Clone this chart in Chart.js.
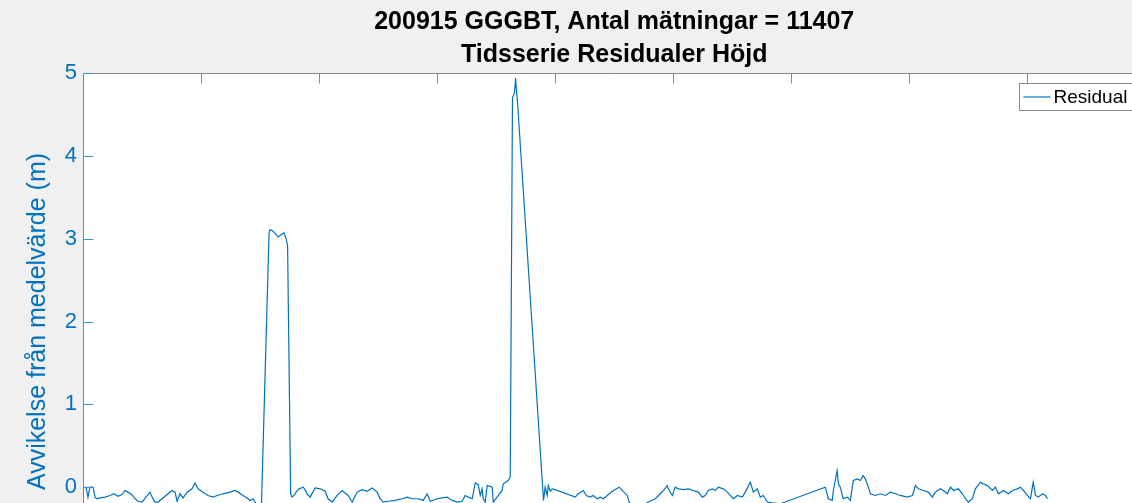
<!DOCTYPE html>
<html>
<head>
<meta charset="utf-8">
<script src="https://cdn.jsdelivr.net/npm/chart.js@4.4.1/dist/chart.umd.min.js"></script>
<style>
  html, body { margin: 0; padding: 0; overflow: hidden; background: #f0f0f0; }
  #wrap { position: absolute; left: 0; top: 0; }
</style>
</head>
<body>
<div id="wrap"><canvas id="graph" width="1179" height="620"></canvas></div>
<script>
// Data (x = sample time, y = residual height in m)
const titleLines = ['200915 GGGBT, Antal mätningar = 11407', 'Tidsserie Residualer Höjd'];
const yTitle = 'Avvikelse från medelvärde (m)';
const seriesName = 'Residual';

const xTickValues = [0, 1000, 2000, 3000, 4000, 5000, 6000, 7000, 8000, 9000];
const yTickValues = [-1, 0, 1, 2, 3, 4, 5];

const xVals = [
  0, 25, 42, 59, 85, 102, 119, 144, 186, 229, 263, 297, 331, 356, 381, 415, 441, 466, 500,
  568, 585, 610, 636, 754, 780, 797, 822, 848, 881, 924, 949, 975, 1017, 1059, 1102, 1136,
  1186, 1246, 1288, 1314, 1356, 1390, 1415, 1441, 1466, 1492, 1509,
  1576, 1585, 1610, 1636, 1653, 1687, 1703, 1720, 1733,
  1759, 1771, 1788, 1805, 1831, 1865, 1881, 1898, 1924, 1966, 2009, 2051, 2076, 2110, 2153,
  2195, 2220, 2246, 2280, 2322, 2364, 2407, 2449, 2492, 2517, 2543, 2585, 2644, 2704, 2746,
  2788, 2839, 2882, 2915, 2941, 3000, 3043, 3085, 3127, 3170, 3212, 3237, 3263, 3297, 3322,
  3348, 3365, 3381, 3390, 3407, 3424, 3449, 3466, 3475, 3551, 3560, 3602, 3619,
  3638, 3655, 3664, 3670, 3681,
  3901, 3915, 3932, 3941, 3958, 3975, 4000, 4170, 4195, 4238, 4263, 4297, 4322, 4356, 4382,
  4407, 4441, 4483, 4542, 4576, 4610, 4627, 4653, 4695, 4746, 4788, 4848, 4890, 4924, 4949,
  4958, 4992, 5017, 5043, 5085, 5127, 5170, 5212, 5246, 5271, 5297, 5331, 5356, 5382, 5424,
  5458, 5483, 5509, 5543, 5585, 5610, 5653, 5678, 5712, 5737, 5763, 5797, 5839, 5907,
  6288, 6314, 6347, 6356, 6388, 6399, 6415, 6432, 6441, 6475, 6500, 6525, 6559, 6585, 6608,
  6627, 6653, 6670, 6712, 6754, 6797, 6839, 6881, 6924, 6983, 7026, 7051, 7076, 7119, 7161,
  7195, 7220, 7263, 7288, 7322, 7348, 7373, 7415, 7449, 7475, 7500, 7534, 7559, 7602, 7627,
  7661, 7704, 7729, 7754, 7797, 7839, 7873, 7916, 7941, 7966, 8000, 8026, 8049, 8068, 8093,
  8127, 8153, 8170
];

const yVals = [
  -0.01, 0.00, -0.12, 0.00, 0.00, -0.12, -0.14, -0.13, -0.12, -0.10, -0.08, -0.11, -0.09, -0.04, -0.06, -0.09, -0.14, -0.17, -0.18,
  -0.06, -0.12, -0.18, -0.18, -0.04, -0.06, -0.17, -0.08, -0.13, -0.06, -0.02, 0.05, -0.02, -0.06, -0.10, -0.12, -0.10,
  -0.08, -0.06, -0.04, -0.06, -0.10, -0.13, -0.16, -0.14, -0.20, -0.28, -0.35,
  3.07, 3.11, 3.09, 3.05, 3.02, 3.06, 3.07, 3.00, 2.92,
  -0.08, -0.12, -0.10, -0.06, -0.02, 0.00, -0.03, -0.08, -0.12, -0.01, -0.02, -0.05, -0.14, -0.18, -0.10,
  -0.04, -0.07, -0.10, -0.18, -0.06, -0.03, -0.05, -0.01, -0.06, -0.14, -0.18, -0.17, -0.16, -0.14, -0.12,
  -0.14, -0.14, -0.16, -0.08, -0.17, -0.14, -0.13, -0.12, -0.16, -0.18, -0.17, -0.10, -0.12, -0.14, 0.05,
  0.03, -0.10, -0.02, -0.14, -0.18, 0.02, 0.01, 0.00, -0.18, -0.04, 0.04, 0.08, 0.12,
  4.70, 4.76, 4.94, 4.82, 4.64,
  -0.16, 0.00, -0.10, 0.02, -0.05, -0.02, -0.03, -0.12, -0.08, -0.04, -0.10, -0.12, -0.10, -0.14, -0.12,
  -0.14, -0.10, -0.05, 0.00, -0.05, -0.10, -0.18, -0.25, -0.24, -0.22, -0.18, -0.14, -0.08, -0.03, 0.02,
  -0.02, -0.10, 0.00, -0.02, -0.03, -0.02, -0.04, -0.06, -0.12, -0.10, -0.04, -0.02, -0.04, 0.00, -0.02,
  -0.06, -0.10, -0.14, -0.10, -0.12, -0.06, 0.06, -0.06, -0.02, -0.12, -0.10, -0.18, -0.19, -0.20,
  0.00, -0.14, -0.16, -0.04, 0.20, 0.04, 0.00, -0.10, -0.14, -0.12, -0.16, 0.08, 0.10, 0.08, 0.14,
  0.10, 0.00, -0.08, -0.10, -0.08, -0.10, -0.06, -0.08, -0.10, -0.12, -0.10, 0.02, -0.02, -0.04, -0.06,
  -0.12, -0.06, -0.02, -0.04, -0.08, 0.00, -0.04, -0.02, -0.08, -0.14, -0.18, -0.14, -0.02, 0.06, 0.04,
  0.02, -0.04, 0.00, -0.08, -0.04, -0.08, -0.04, -0.02, 0.00, -0.04, -0.10, -0.14, 0.06, -0.10, -0.12,
  -0.08, -0.10, -0.14
];

const FONT = '"Liberation Sans", Arial, Helvetica, sans-serif';
const BLUE = '#0072BD';

// MATLAB-like box: white axes, inward ticks, legend in the top right corner
const matlabAxes = {
  id: 'matlabAxes',
  beforeDraw(chart) {
    const { ctx, chartArea: a } = chart;
    ctx.save();
    ctx.fillStyle = '#ffffff';
    ctx.fillRect(a.left, a.top, a.right - a.left, a.bottom - a.top);
    ctx.restore();
  },
  afterDraw(chart) {
    const { ctx, chartArea: a, scales } = chart;
    const L = Math.round(a.left) + 0.5, R = Math.round(a.right) + 0.5;
    const T = Math.round(a.top) + 0.5, B = Math.round(a.bottom) + 0.5;
    ctx.save();
    ctx.lineWidth = 1;

    ctx.strokeStyle = '#8a8a8a';
    ctx.beginPath();
    ctx.moveTo(L, T); ctx.lineTo(R, T);
    ctx.moveTo(R, T); ctx.lineTo(R, B);
    ctx.moveTo(L, B); ctx.lineTo(R, B);
    scales.x.ticks.forEach(t => {
      const px = Math.round(scales.x.getPixelForValue(t.value)) + 0.5;
      ctx.moveTo(px, T); ctx.lineTo(px, T + 10);
      ctx.moveTo(px, B); ctx.lineTo(px, B - 10);
    });
    ctx.stroke();

    ctx.strokeStyle = '#3f93d3';
    ctx.beginPath();
    ctx.moveTo(L, T); ctx.lineTo(L, B);
    scales.y.ticks.forEach(t => {
      const py = Math.round(scales.y.getPixelForValue(t.value)) + 0.5;
      ctx.moveTo(L, py); ctx.lineTo(L + 10, py);
    });
    ctx.stroke();

    // legend box
    const bx = Math.round(a.right) - 126 + 0.5, by = T + 10;
    const bw = 121, bh = 27;
    ctx.fillStyle = '#ffffff';
    ctx.fillRect(bx, by, bw, bh);
    ctx.strokeStyle = '#8a8a8a';
    ctx.strokeRect(bx, by, bw, bh);
    const ds = chart.data.datasets[0];
    ctx.strokeStyle = ds.borderColor;
    ctx.lineWidth = 1.2;
    ctx.beginPath();
    ctx.moveTo(bx + 4, by + bh / 2);
    ctx.lineTo(bx + 31, by + bh / 2);
    ctx.stroke();
    ctx.fillStyle = '#000000';
    ctx.font = '19px ' + FONT;
    ctx.textBaseline = 'middle';
    ctx.fillText(ds.label, bx + 34, by + bh / 2 + 1);
    ctx.restore();
  }
};

const chart = new Chart(document.getElementById('graph'), {
  type: 'line',
  data: {
    datasets: [{
      label: seriesName,
      data: xVals.map((x, i) => ({ x: x, y: yVals[i] })),
      borderColor: BLUE,
      backgroundColor: BLUE,
      borderWidth: 1.2,
      pointRadius: 0,
      tension: 0
    }]
  },
  options: {
    responsive: false,
    animation: false,
    devicePixelRatio: 1,
    layout: { padding: { left: 0, right: 5, top: 0, bottom: 10 } },
    scales: {
      x: {
        type: 'linear',
        min: 0,
        max: 9000,
        afterBuildTicks: s => { s.ticks = xTickValues.map(v => ({ value: v })); },
        afterFit: s => { s.height = 40; },
        grid: { display: false, drawTicks: false },
        border: { display: false },
        ticks: { color: '#262626', font: { family: FONT, size: 22 }, padding: 6, maxRotation: 0 }
      },
      y: {
        min: -1,
        max: 5,
        afterBuildTicks: s => { s.ticks = yTickValues.map(v => ({ value: v })); },
        afterFit: s => { s.width = 83; },
        grid: { display: false, drawTicks: false },
        border: { display: false },
        ticks: { color: BLUE, font: { family: FONT, size: 22 }, padding: 6 },
        title: {
          display: true,
          text: yTitle,
          color: BLUE,
          font: { family: FONT, size: 25 },
          padding: { top: 23, bottom: 0 }
        }
      }
    },
    plugins: {
      title: {
        display: true,
        fullSize: false,
        text: titleLines,
        color: '#000000',
        font: { family: FONT, size: 25, weight: 'bold', lineHeight: 1.32 },
        padding: { top: 6, bottom: 1 }
      },
      legend: { display: false },
      tooltip: { enabled: false }
    }
  },
  plugins: [matlabAxes]
});
</script>
</body>
</html>
